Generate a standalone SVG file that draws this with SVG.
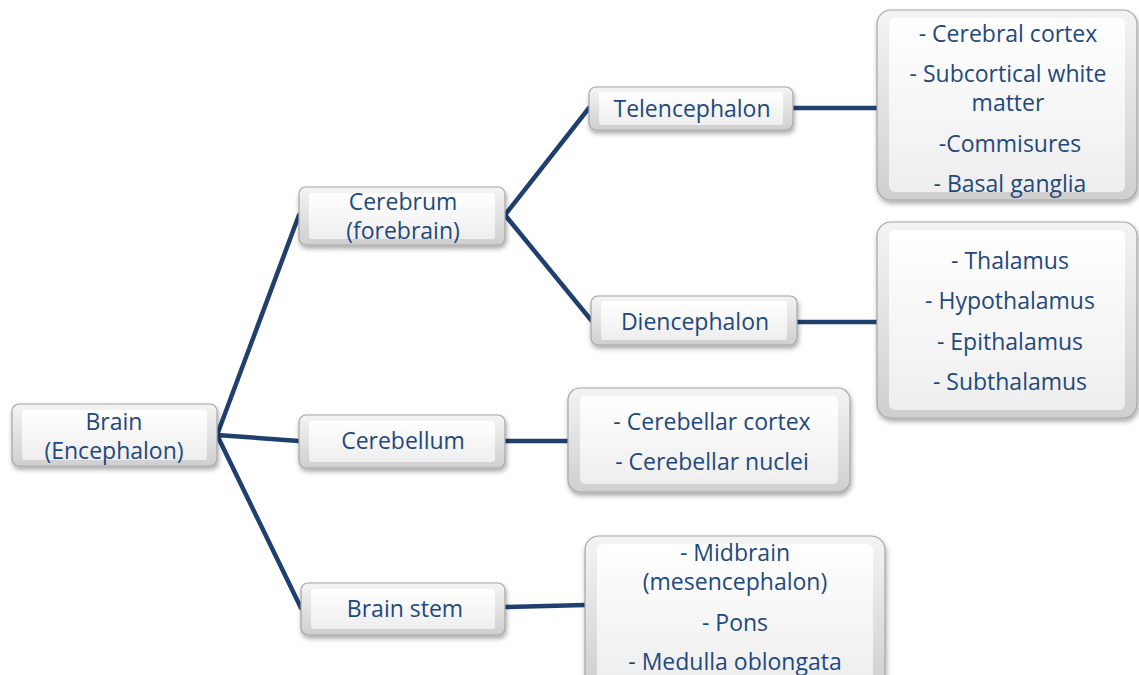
<svg xmlns="http://www.w3.org/2000/svg" width="1139" height="675" viewBox="0 0 1139 675">
<defs>
<linearGradient id="edge" x1="0" y1="0" x2="0" y2="1">
<stop offset="0" stop-color="#f4f4f4"/>
<stop offset="1" stop-color="#cfcfcf"/>
</linearGradient>
<linearGradient id="face" x1="0" y1="0" x2="0" y2="1">
<stop offset="0" stop-color="#ffffff"/>
<stop offset="1" stop-color="#eeeeee"/>
</linearGradient>
<filter id="sh" x="-10%" y="-10%" width="120%" height="130%">
<feDropShadow dx="1" dy="3" stdDeviation="2.5" flood-color="#000" flood-opacity="0.35"/>
</filter>
</defs>
<style>
.o{fill:url(#edge);stroke:#a6a6a6;stroke-width:1.2;filter:url(#sh)}
.i{fill:url(#face);stroke:none}
text{font-family:"Open Sans","Liberation Sans",sans-serif;font-size:23px;fill:#1f497d;text-anchor:middle}
.c{fill:none;stroke:#1f3f6e;stroke-width:4.5;stroke-linecap:round;stroke-linejoin:round}
</style>
<rect width="1139" height="675" fill="#ffffff"/>
<g id="connectors">
<path class="c" d="M217,435 L299,215 M217,435 L299,441 M217,435 L301,608"/>
<path class="c" d="M505,215 L589,108 M505,215 L591,320"/>
<path class="c" d="M793,108 L877,108 M797,322 L877,322 M505,441 L568,441 M505,607 L585,605"/>
</g>
<g id="brain">
<rect class="o" x="12" y="404" width="205" height="62" rx="7"/>
<rect class="i" x="22" y="410" width="185" height="50" rx="3"/>
<text x="114" y="430">Brain</text>
<text x="114" y="459">(Encephalon)</text>
</g>
<g id="cerebrum">
<rect class="o" x="299" y="187" width="206" height="58" rx="7"/>
<rect class="i" x="309" y="193" width="186" height="46" rx="3"/>
<text x="403" y="210">Cerebrum</text>
<text x="403" y="239">(forebrain)</text>
</g>
<g id="cerebellum">
<rect class="o" x="299" y="415" width="206" height="53" rx="7"/>
<rect class="i" x="309" y="421" width="186" height="41" rx="3"/>
<text x="403" y="449">Cerebellum</text>
</g>
<g id="brainstem">
<rect class="o" x="301" y="583" width="204" height="52" rx="7"/>
<rect class="i" x="311" y="589" width="184" height="40" rx="3"/>
<text x="405" y="617">Brain stem</text>
</g>
<g id="telencephalon">
<rect class="o" x="589" y="87" width="204" height="43" rx="7"/>
<rect class="i" x="599" y="92" width="184" height="33" rx="3"/>
<text x="692" y="117">Telencephalon</text>
</g>
<g id="diencephalon">
<rect class="o" x="591" y="296" width="206" height="49" rx="7"/>
<rect class="i" x="601" y="301" width="186" height="39" rx="3"/>
<text x="695" y="330">Diencephalon</text>
</g>
<g id="telen-parts">
<rect class="o" x="877" y="10" width="260" height="190" rx="14"/>
<rect class="i" x="889" y="18" width="236" height="174" rx="6"/>
<text x="1008" y="42">- Cerebral cortex</text>
<text x="1008" y="82">- Subcortical white</text>
<text x="1008" y="111">matter</text>
<text x="1010" y="152">-Commisures</text>
<text x="1010" y="192">- Basal ganglia</text>
</g>
<g id="dien-parts">
<rect class="o" x="877" y="222" width="260" height="196" rx="14"/>
<rect class="i" x="889" y="230" width="236" height="180" rx="6"/>
<text x="1010" y="269">- Thalamus</text>
<text x="1010" y="309">- Hypothalamus</text>
<text x="1010" y="350">- Epithalamus</text>
<text x="1010" y="390">- Subthalamus</text>
</g>
<g id="cerebellum-parts">
<rect class="o" x="568" y="388" width="282" height="104" rx="12"/>
<rect class="i" x="580" y="396" width="258" height="88" rx="5"/>
<text x="712" y="430">- Cerebellar cortex</text>
<text x="712" y="470">- Cerebellar nuclei</text>
</g>
<g id="brainstem-parts">
<rect class="o" x="585" y="536" width="300" height="154" rx="14"/>
<rect class="i" x="597" y="544" width="276" height="138" rx="6"/>
<text x="735" y="561">- Midbrain</text>
<text x="735" y="590">(mesencephalon)</text>
<text x="735" y="631">- Pons</text>
<text x="735" y="670">- Medulla oblongata</text>
</g>
</svg>
